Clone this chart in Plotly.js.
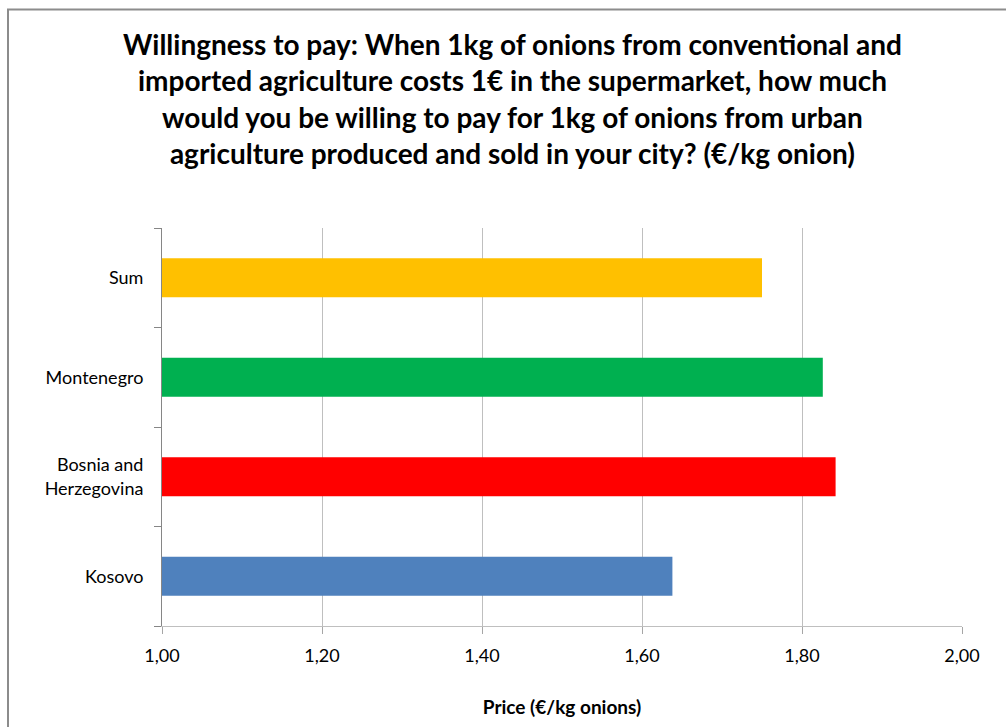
<!DOCTYPE html>
<html>
<head>
<meta charset="utf-8">
<script src="https://cdn.plot.ly/plotly-3.0.1.min.js"></script>
<style>
html,body{margin:0;padding:0;background:#fff;}
#chart{width:1006px;height:727px;}
</style>
</head>
<body>
<div id="chart"></div>
<script>
const categories = ["Kosovo", "Bosnia and<br>Herzegovina", "Montenegro", "Sum"];
const values = [1.638, 1.842, 1.826, 1.750];
const colors = ["#4F81BD", "#FF0000", "#00B050", "#FFC000"];
const xTickVals = [1.0, 1.2, 1.4, 1.6, 1.8, 2.0];
const xTickText = ["1,00", "1,20", "1,40", "1,60", "1,80", "2,00"];
const titleText = "Willingness to pay: When 1kg of onions from conventional and<br>imported agriculture costs 1€ in the supermarket, how much<br>would you be willing to pay for 1kg of onions from urban<br>agriculture produced and sold in your city? (€/kg onion)";
const xTitle = "Price (€/kg onions)";

const FONT = "Lato, 'Open Sans', sans-serif";

const trace = {
  type: "bar",
  orientation: "h",
  y: categories,
  x: values.map(v => v - 1),
  base: 1,
  marker: {color: colors, line: {width: 0}},
  hoverinfo: "skip"
};

const layout = {
  width: 1006,
  height: 727,
  margin: {l: 162, r: 44, t: 228, b: 101},
  paper_bgcolor: "#fff",
  plot_bgcolor: "#fff",
  showlegend: false,
  bargap: 0.61,
  font: {family: FONT, color: "#000", size: 18},
  xaxis: {
    range: [1, 2],
    tickvals: xTickVals,
    ticktext: xTickText,
    showgrid: true,
    gridcolor: "#BFBFBF",
    gridwidth: 1,
    zeroline: false,
    showline: true,
    linecolor: "#BFBFBF",
    linewidth: 1,
    ticks: "outside",
    ticklen: 7,
    tickcolor: "#A6A6A6",
    ticklabelstandoff: 6,
    tickfont: {family: FONT, size: 18, color: "#000"},
    title: {text: "<b>" + xTitle + "</b>", font: {family: FONT, size: 19, color: "#000"}, standoff: 36},
    fixedrange: true
  },
  yaxis: {
    type: "category",
    categoryorder: "array",
    categoryarray: categories,
    showgrid: false,
    zeroline: false,
    showline: true,
    linecolor: "#868686",
    linewidth: 1,
    ticks: "outside",
    tickson: "boundaries",
    ticklen: 7,
    tickcolor: "#868686",
    tickfont: {family: FONT, size: 18, color: "#000"},
    ticklabelstandoff: 14,
    fixedrange: true
  },
  annotations: [{
    text: "<b>" + titleText + "</b>",
    xref: "paper", yref: "paper",
    x: (512 - 162) / 800, xanchor: "center",
    y: (626 - 98) / 398, yanchor: "middle",
    showarrow: false,
    align: "center",
    font: {family: FONT, size: 28, color: "#000"}
  }],
  shapes: [{
    type: "rect",
    xref: "paper", yref: "paper",
    x0: (8 - 162) / 800, x1: 1.2,
    y0: -0.5, y1: (626 - 9.5) / 398,
    line: {color: "#8C8C8C", width: 2},
    fillcolor: "rgba(0,0,0,0)",
    layer: "below"
  }]
};

Plotly.newPlot("chart", [trace], layout, {displayModeBar: false, staticPlot: true});
</script>
</body>
</html>
